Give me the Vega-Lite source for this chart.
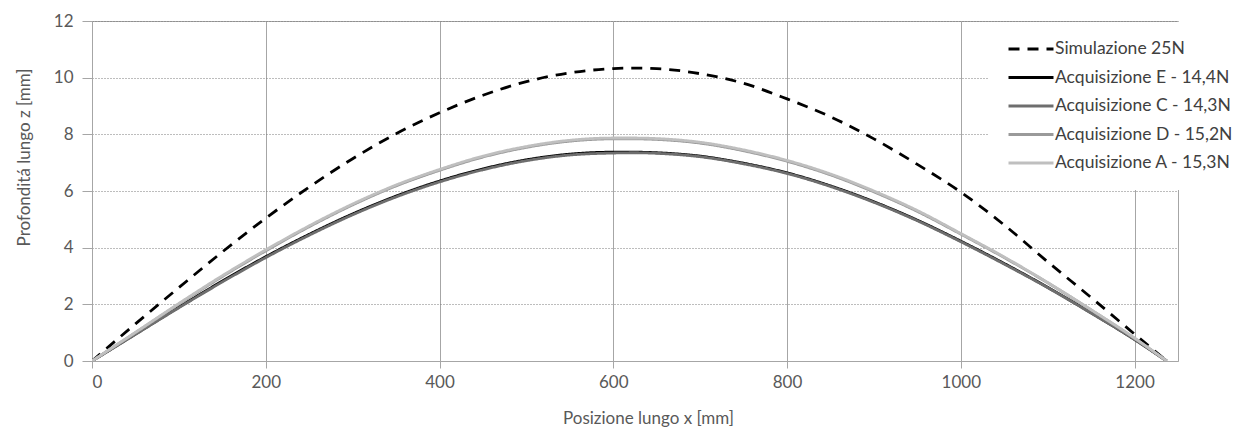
{
  "$schema": "https://vega.github.io/schema/vega-lite/v6.json",
  "width": 1086,
  "height": 340,
  "autosize": {"type": "none"},
  "padding": {"left": 92, "top": 21, "right": 71, "bottom": 69},
  "background": "white",
  "config": {
    "font": "Lato",
    "view": {"stroke": "#a6a6a6", "strokeWidth": 1},
    "axis": {
      "labelFont": "Lato",
      "labelFontSize": 17,
      "labelColor": "#595959",
      "titleFont": "Lato",
      "titleFontSize": 17,
      "titleFontWeight": "normal",
      "titleColor": "#595959",
      "domainColor": "#a6a6a6",
      "tickColor": "#a6a6a6"
    }
  },
  "data": {
    "values": [
      {"x": 0, "S": 0, "E": 0, "C": 0, "D": 0, "A": 0},
      {"x": 50, "S": 1.31, "E": 0.95, "C": 0.94, "D": 1.0, "A": 1.01},
      {"x": 100, "S": 2.59, "E": 1.9, "C": 1.88, "D": 2.01, "A": 2.03},
      {"x": 150, "S": 3.85, "E": 2.82, "C": 2.79, "D": 2.98, "A": 3.01},
      {"x": 200, "S": 5.04, "E": 3.68, "C": 3.65, "D": 3.89, "A": 3.92},
      {"x": 250, "S": 6.14, "E": 4.47, "C": 4.44, "D": 4.74, "A": 4.77},
      {"x": 300, "S": 7.14, "E": 5.19, "C": 5.16, "D": 5.51, "A": 5.54},
      {"x": 350, "S": 8.02, "E": 5.82, "C": 5.79, "D": 6.18, "A": 6.21},
      {"x": 400, "S": 8.76, "E": 6.35, "C": 6.32, "D": 6.73, "A": 6.76},
      {"x": 450, "S": 9.38, "E": 6.78, "C": 6.75, "D": 7.2, "A": 7.23},
      {"x": 500, "S": 9.86, "E": 7.1, "C": 7.07, "D": 7.54, "A": 7.57},
      {"x": 550, "S": 10.17, "E": 7.3, "C": 7.27, "D": 7.76, "A": 7.79},
      {"x": 600, "S": 10.32, "E": 7.37, "C": 7.34, "D": 7.84, "A": 7.87},
      {"x": 625, "S": 10.34, "E": 7.37, "C": 7.35, "D": 7.84, "A": 7.87},
      {"x": 650, "S": 10.32, "E": 7.35, "C": 7.33, "D": 7.82, "A": 7.85},
      {"x": 700, "S": 10.14, "E": 7.23, "C": 7.21, "D": 7.69, "A": 7.72},
      {"x": 750, "S": 9.8, "E": 6.98, "C": 6.96, "D": 7.42, "A": 7.45},
      {"x": 800, "S": 9.25, "E": 6.64, "C": 6.62, "D": 7.05, "A": 7.08},
      {"x": 850, "S": 8.62, "E": 6.18, "C": 6.16, "D": 6.57, "A": 6.6},
      {"x": 900, "S": 7.84, "E": 5.62, "C": 5.6, "D": 5.97, "A": 6.0},
      {"x": 950, "S": 6.94, "E": 4.97, "C": 4.95, "D": 5.28, "A": 5.31},
      {"x": 1000, "S": 5.96, "E": 4.23, "C": 4.21, "D": 4.48, "A": 4.5},
      {"x": 1050, "S": 4.8, "E": 3.44, "C": 3.42, "D": 3.65, "A": 3.67},
      {"x": 1100, "S": 3.5, "E": 2.6, "C": 2.59, "D": 2.76, "A": 2.77},
      {"x": 1150, "S": 2.24, "E": 1.7, "C": 1.69, "D": 1.8, "A": 1.81},
      {"x": 1200, "S": 0.95, "E": 0.76, "C": 0.76, "D": 0.8, "A": 0.81},
      {"x": 1237, "S": 0, "E": 0, "C": 0, "D": 0, "A": 0}
    ]
  },
  "transform": [
    {"fold": ["S", "E", "C", "D", "A"], "as": ["serie", "z"]}
  ],
  "mark": {"type": "line", "strokeWidth": 2.8, "interpolate": "monotone", "clip": true},
  "encoding": {
    "x": {
      "field": "x",
      "type": "quantitative",
      "scale": {"domain": [0, 1250], "nice": false, "zero": false},
      "axis": {
        "values": [0, 200, 400, 600, 800, 1000, 1200],
        "format": "d",
        "grid": true,
        "gridColor": "#a6a6a6",
        "gridWidth": 1,
        "tickSize": 7,
        "labelPadding": 6,
        "title": "Posizione lungo x [mm]",
        "titleX": 556,
        "titleY": 57,
        "titleAlign": "center",
        "titleBaseline": "middle"
      }
    },
    "y": {
      "field": "z",
      "type": "quantitative",
      "scale": {"domain": [0, 12], "nice": false},
      "axis": {
        "values": [0, 2, 4, 6, 8, 10, 12],
        "grid": true,
        "gridColor": "#7a7a7a",
        "gridDash": [1, 2],
        "gridWidth": 1,
        "tickSize": 10,
        "labelPadding": 9,
        "title": "Profonditá lungo z [mm]",
        "titleX": -68,
        "titleY": 136,
        "titleAngle": -90,
        "titleAlign": "center",
        "titleBaseline": "middle"
      }
    },
    "color": {
      "field": "serie",
      "type": "nominal",
      "scale": {
        "domain": ["S", "E", "C", "D", "A"],
        "range": ["#000000", "#000000", "#6e6e6e", "#9a9a9a", "#bfbfbf"]
      },
      "legend": {
        "title": null,
        "orient": "none",
        "legendX": 897,
        "legendY": 1,
        "padding": 18,
        "fillColor": "white",
        "symbolType": "M-1,0H5",
        "symbolSize": 225,
        "symbolStrokeWidth": 3,
        "symbolFillColor": "transparent",
        "labelFont": "Lato",
        "labelFontSize": 17.5,
        "labelColor": "#404040",
        "labelOffset": 30,
        "rowPadding": 10.5,
        "labelLimit": 400,
        "labelExpr": "datum.label == 'S' ? 'Simulazione 25N' : datum.label == 'E' ? 'Acquisizione E - 14,4N' : datum.label == 'C' ? 'Acquisizione C - 14,3N' : datum.label == 'D' ? 'Acquisizione D - 15,2N' : 'Acquisizione A - 15,3N'"
      }
    },
    "strokeDash": {
      "field": "serie",
      "type": "nominal",
      "scale": {
        "domain": ["S", "E", "C", "D", "A"],
        "range": [[11, 8], [1, 0], [1, 0], [1, 0], [1, 0]]
      },
      "legend": {
        "title": null,
        "orient": "none",
        "legendX": 897,
        "legendY": 1,
        "padding": 18,
        "fillColor": "white",
        "symbolType": "M-1,0H5",
        "symbolSize": 225,
        "symbolStrokeWidth": 3,
        "labelFontSize": 17.5,
        "labelOffset": 30,
        "rowPadding": 10.5,
        "labelLimit": 400,
        "labelExpr": "datum.label == 'S' ? 'Simulazione 25N' : datum.label == 'E' ? 'Acquisizione E - 14,4N' : datum.label == 'C' ? 'Acquisizione C - 14,3N' : datum.label == 'D' ? 'Acquisizione D - 15,2N' : 'Acquisizione A - 15,3N'"
      }
    }
  }
}
